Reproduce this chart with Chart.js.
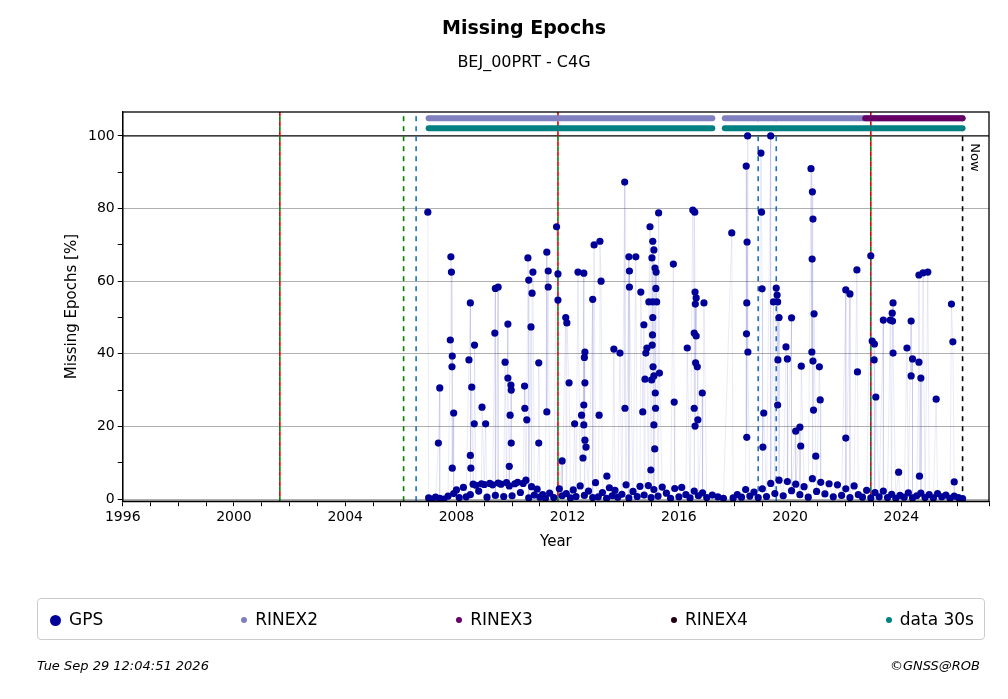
<!DOCTYPE html>
<html lang="en">
  <head>
    <meta charset="UTF-8" />
    <title>Missing Epochs</title>
    <script src="https://cdn.jsdelivr.net/npm/chart.js"></script>
    <style>
      body { margin: 0; background: #fff; font-family: "DejaVu Sans", sans-serif; }
      #wrap { position: relative; width: 1008px; height: 699px; }
      #legend { position: absolute; left: 37px; top: 598px; width: 948px; height: 42px; border: 1px solid #ccc; border-radius: 4px; display: flex; justify-content: space-between; align-items: center; padding: 0 10px 0 12px; box-sizing: border-box; font-size: 17px; }
      #legend span.dot { display: inline-block; border-radius: 50%; margin-right: 8px; vertical-align: middle; }
      .foot { position: absolute; top: 658px; font-size: 13px; font-style: italic; }
    </style>
  </head>
  <body>
    <div id="wrap">
      <canvas id="chart" width="1008" height="699"></canvas>
      <div id="legend">
        <div><span class="dot" style="width:11px;height:11px;background:#000099"></span>GPS</div>
        <div><span class="dot" style="width:6px;height:6px;background:#8080c0"></span>RINEX2</div>
        <div><span class="dot" style="width:6px;height:6px;background:#660066"></span>RINEX3</div>
        <div><span class="dot" style="width:6px;height:6px;background:#220011"></span>RINEX4</div>
        <div><span class="dot" style="width:6px;height:6px;background:#008080"></span>data 30s</div>
      </div>
      <div class="foot" style="left:37px">Tue Sep 29 12:04:51 2026</div>
      <div class="foot" style="right:28px">©GNSS@ROB</div>
    </div>
    <script>
      // GPS missing epochs [year, percent]
      const gpsHigh = [
        [2006.97,79],[2007.4,30.6],[2007.35,15.4],[2007.8,66.7],[2007.82,62.5],[2007.78,43.8],[2007.85,39.4],[2007.84,36.4],[2007.9,23.7],[2007.85,8.5],
        [2008.5,54],[2008.45,38.3],[2008.55,30.8],[2008.65,42.4],[2008.64,20.7],[2008.5,12],[2008.52,8.5],[2008.92,25.3],[2009.05,20.7],
        [2009.4,58],[2009.5,58.4],[2009.85,48.2],[2009.38,45.7],[2009.75,37.7],[2009.85,33.3],[2009.96,31.4],[2009.97,30],[2009.93,23.1],[2009.97,15.4],[2009.9,9],
        [2010.45,31.1],[2010.46,25],[2010.53,21.8],[2010.57,66.4],[2010.6,60.3],[2010.75,62.5],[2010.72,56.7],[2010.68,47.4],[2010.96,15.4],[2010.96,37.5],
        [2011.25,68],[2011.3,62.8],[2011.3,58.4],[2011.25,24],[2011.6,75],[2011.65,62],[2011.65,54.8],[2011.8,10.5],[2011.93,50],[2011.97,48.5],[2012.05,32],
        [2012.37,62.5],[2012.58,62.2],[2012.62,40.5],[2012.6,39],[2012.62,32],[2012.58,25.9],[2012.5,23.1],[2012.58,20.4],[2012.62,16.2],[2012.66,14.3],[2012.55,11.3],[2012.25,20.7],
        [2012.9,55],[2012.95,70],[2013.16,71],[2013.2,60],[2013.13,23.1],[2013.41,6.3],[2013.66,41.3],[2013.88,40.2],
        [2014.05,87.3],[2014.06,25],[2014.2,66.7],[2014.22,62.8],[2014.22,58.4],[2014.45,66.7],[2014.63,57],[2014.7,24],[2014.81,40.2],[2014.74,48],[2014.78,33],[2014.85,41.6],
        [2014.96,75],[2015.03,66.4],[2015.06,71],[2015.1,68.6],[2015.14,63.6],[2015.18,62.5],[2015.17,58],[2014.92,54.3],[2015.06,54.3],[2015.2,54.3],
        [2015.06,50],[2015.05,45.2],[2015.04,42.4],[2015.07,36.4],[2015.02,32.8],[2015.1,33.9],[2015.15,29.2],[2015.16,25],[2015.1,20.4],[2015.13,13.8],[2014.99,8],
        [2015.27,78.8],[2015.3,34.7],[2015.8,64.7],[2015.83,26.7],[2016.3,41.6],[2016.5,79.6],[2016.57,79],[2016.58,57],[2016.62,55.4],[2016.59,53.7],[2016.55,45.7],[2016.62,44.9],
        [2016.6,37.5],[2016.66,36.4],[2016.55,25],[2016.58,20.1],[2016.68,21.8],[2016.9,54],[2016.84,29.2],
        [2017.9,73.3],[2018.42,91.7],[2018.45,70.8],[2018.47,100],[2018.44,54],[2018.48,40.5],[2018.43,45.5],[2018.44,17],
        [2018.95,95.3],[2018.97,79],[2018.99,57.9],[2019.05,23.7],[2019.02,14.3],[2019.3,100],[2019.5,58.1],[2019.53,56.2],[2019.55,54.3],[2019.6,50],[2019.56,38.3],[2019.55,25.9],[2019.4,54.3],
        [2019.85,41.9],[2019.9,38.6],[2020.05,49.9],[2020.2,18.7],[2020.35,19.8],[2020.4,36.6],[2020.38,14.6],
        [2020.75,91],[2020.8,84.6],[2020.82,77.1],[2020.79,66.1],[2020.86,51],[2020.78,40.5],[2020.82,38],[2020.84,24.5],[2020.92,11.8],[2021.05,36.4],[2021.08,27.3],
        [2022.0,57.6],[2022.15,56.5],[2022.0,16.8],[2022.4,63.1],[2022.42,35],[2022.9,67],[2022.95,43.5],[2023.03,42.7],[2023.02,38.3],[2023.08,28.1],
        [2023.35,49.3],[2023.6,49.3],[2023.67,51.2],[2023.7,54],[2023.68,49],[2023.7,40.2],[2023.9,7.4],
        [2024.35,49],[2024.4,38.6],[2024.2,41.6],[2024.35,33.9],[2024.63,37.7],[2024.63,61.7],[2024.78,62.3],[2024.95,62.5],[2024.65,6.3],[2024.7,33.3],[2025.25,27.5],
        [2025.8,53.7],[2025.85,43.3],[2025.9,4.7]
      ];
      const gpsLow = [
        [2007.0,0.3],[2007.1,0],[2007.25,0.5],[2007.4,0.2],[2007.55,0],[2007.7,0.8],[2007.9,1.5],[2008.0,2.5],[2008.1,0.4],[2008.25,3.2],[2008.35,0.6],[2008.5,1.2],
        [2008.6,4.1],[2008.7,3.8],[2008.8,2.2],[2008.9,4.2],[2009.0,4],[2009.1,0.5],[2009.2,4.3],[2009.3,3.9],[2009.4,1],[2009.5,4.4],[2009.6,4.1],[2009.7,0.7],
        [2009.8,4.5],[2009.9,3.6],[2010.0,0.9],[2010.1,4.2],[2010.2,4.6],[2010.3,1.8],[2010.4,4.3],[2010.5,5.2],[2010.6,0.3],[2010.7,3.4],[2010.8,1.1],[2010.9,2.7],
        [2011.0,0.5],[2011.1,1.2],[2011.2,0.2],[2011.35,1.6],[2011.5,0.4],[2011.7,2.8],[2011.8,0.9],[2011.95,1.5],[2012.1,0.3],[2012.2,2.5],[2012.3,0.7],[2012.45,3.6],
        [2012.6,1],[2012.75,2.2],[2012.9,0.4],[2013.0,4.5],[2013.1,0.6],[2013.25,1.8],[2013.4,0.2],[2013.5,3.1],[2013.6,0.9],[2013.7,2.4],[2013.8,0.5],[2013.95,1.3],
        [2014.1,3.9],[2014.2,0.3],[2014.35,2.1],[2014.5,0.7],[2014.6,3.5],[2014.75,1.1],[2014.9,3.7],[2015.0,0.4],[2015.1,2.6],[2015.25,0.8],[2015.4,3.3],[2015.55,1.6],
        [2015.7,0.2],[2015.85,2.9],[2016.0,0.6],[2016.1,3.2],[2016.25,1.2],[2016.4,0.3],[2016.55,2.2],[2016.7,0.9],[2016.85,1.7],[2017.0,0.4],[2017.2,1.1],[2017.4,0.6],[2017.6,0.2],
        [2017.95,0.3],[2018.1,1.2],[2018.25,0.5],[2018.4,2.6],[2018.55,0.8],[2018.7,1.9],[2018.85,0.4],[2019.0,2.8],[2019.15,0.7],[2019.3,4.3],[2019.45,1.5],[2019.6,5.2],
        [2019.75,0.9],[2019.9,4.8],[2020.05,2.3],[2020.2,4.1],[2020.35,1.2],[2020.5,3.4],[2020.65,0.5],[2020.8,5.6],[2020.95,2.1],[2021.1,4.6],[2021.25,1.4],[2021.4,4.2],
        [2021.55,0.6],[2021.7,3.9],[2021.85,1],[2022.0,2.8],[2022.15,0.4],[2022.3,3.6],[2022.45,1.2],[2022.6,0.5],[2022.75,2.4],[2022.9,0.3],[2023.05,1.8],[2023.2,0.6],
        [2023.35,2.2],[2023.5,0.4],[2023.65,1.3],[2023.8,0.2],[2023.95,1],[2024.1,0.5],[2024.25,1.7],[2024.4,0.3],[2024.55,0.9],[2024.7,1.6],[2024.85,0.4],[2025.0,1.2],
        [2025.15,0.3],[2025.3,1.5],[2025.45,0.6],[2025.6,1.1],[2025.75,0.2],[2025.9,0.8],[2026.05,0.4],[2026.2,0.1]
      ];
      const rinex2Spans = [[2007.0, 2017.2], [2017.65, 2026.2]];
      const rinex3Spans = [[2022.7, 2026.2]];
      const data30sSpans = [[2007.0, 2017.2], [2017.65, 2026.2]];
      const redGreenLines = [2001.65, 2011.65, 2022.9];
      const greenLines = [2006.1];
      const blueLines = [2006.55, 2018.85, 2019.5];
      const nowYear = 2026.2;
      const xMin = 1996, xMax = 2027.15, yMin = -0.6, yMax = 106.6;

      const gps = gpsHigh.concat(gpsLow).map(([x, y]) => ({ x, y })).sort((a, b) => a.x - b.x);

      function vline(x, color, offset) {
        return { data: [{ x, y: yMin }, { x, y: yMax }], borderColor: color, borderWidth: 1.6,
                 borderDash: [5, 5], borderDashOffset: offset || 0, pointRadius: 0, showLine: true };
      }
      function band(spans, y, color) {
        return spans.map(([a, b]) => ({ data: [{ x: a, y }, { x: b, y }], borderColor: color, borderWidth: 6,
                 borderCapStyle: "round", pointRadius: 0, showLine: true }));
      }

      // pushed bottom-most first, reversed at the end (Chart.js draws index 0 on top)
      const datasets = [];
      datasets.push({ data: [{ x: xMin, y: 100 }, { x: xMax, y: 100 }], borderColor: "#000", borderWidth: 1.3, pointRadius: 0, showLine: true });
      redGreenLines.forEach((x) => { datasets.push(vline(x, "#008000")); datasets.push(vline(x, "#dd0000", 5)); });
      greenLines.forEach((x) => datasets.push(vline(x, "#008000")));
      blueLines.forEach((x) => datasets.push(vline(x, "#1f6fc4")));
      datasets.push(vline(nowYear, "#000"));
      datasets.push(...band(rinex2Spans, 104.9, "#8080c0"));
      datasets.push(...band(rinex3Spans, 104.9, "#660066"));
      datasets.push(...band(data30sSpans, 102.1, "#008080"));
      datasets.push({ data: gps, showLine: true, borderColor: "rgba(90,90,200,0.12)", borderWidth: 1,
                      pointRadius: 3.6, pointBackgroundColor: "#000099", pointBorderWidth: 0 });
      datasets.reverse();

      const frame = {
        id: "frame",
        afterDraw(chart) {
          const { ctx, chartArea: a, scales } = chart;
          ctx.save();
          ctx.strokeStyle = "#000";
          ctx.lineWidth = 1.3;
          ctx.strokeRect(a.left, a.top, a.right - a.left, a.bottom - a.top);
          ctx.translate(scales.x.getPixelForValue(nowYear) + 8, scales.y.getPixelForValue(98));
          ctx.rotate(Math.PI / 2);
          ctx.font = "13px 'DejaVu Sans'";
          ctx.fillStyle = "#000";
          ctx.textBaseline = "middle";
          ctx.fillText("Now", 0, -4);
          ctx.restore();
        },
      };

      new Chart(document.getElementById("chart"), {
        type: "scatter",
        data: { datasets },
        plugins: [frame],
        options: {
          responsive: false,
          animation: false,
          layout: { padding: { left: 59, right: 19, top: 0, bottom: 144 } },
          plugins: {
            legend: { display: false },
            tooltip: { enabled: false },
            title: { display: true, text: "Missing Epochs", color: "#000", font: { family: "DejaVu Sans", size: 19, weight: "bold" }, padding: { top: 18, bottom: 12 } },
            subtitle: { display: true, text: "BEJ_00PRT - C4G", color: "#000", font: { family: "DejaVu Sans", size: 16 }, padding: { bottom: 40 } },
          },
          scales: {
            x: {
              type: "linear", min: xMin, max: xMax,
              border: { color: "#000", width: 1.3 },
              grid: { drawOnChartArea: false, color: "#000", tickLength: 5 },
              ticks: { stepSize: 1, autoSkip: false, maxRotation: 0, color: "#000", font: { family: "DejaVu Sans", size: 14 },
                       callback: (v) => (v % 4 === 0 ? String(v) : "") },
              title: { display: true, text: "Year", color: "#000", font: { family: "DejaVu Sans", size: 15 } },
            },
            y: {
              min: yMin, max: yMax,
              border: { color: "#000", width: 1.3 },
              grid: { color: (c) => (c.tick && c.tick.value % 20 === 0 && c.tick.value < 100 ? "#b0b0b0" : "rgba(0,0,0,0)"),
                      tickColor: "#000", tickLength: 5 },
              afterBuildTicks: (axis) => { axis.ticks = [0,10,20,30,40,50,60,70,80,90,100].map((v) => ({ value: v })); },
              ticks: { color: "#000", font: { family: "DejaVu Sans", size: 14 }, callback: (v) => (v % 20 === 0 ? String(v) : "") },
              title: { display: true, text: "Missing Epochs [%]", color: "#000", font: { family: "DejaVu Sans", size: 15 } },
            },
          },
        },
      });
    </script>
  </body>
</html>
